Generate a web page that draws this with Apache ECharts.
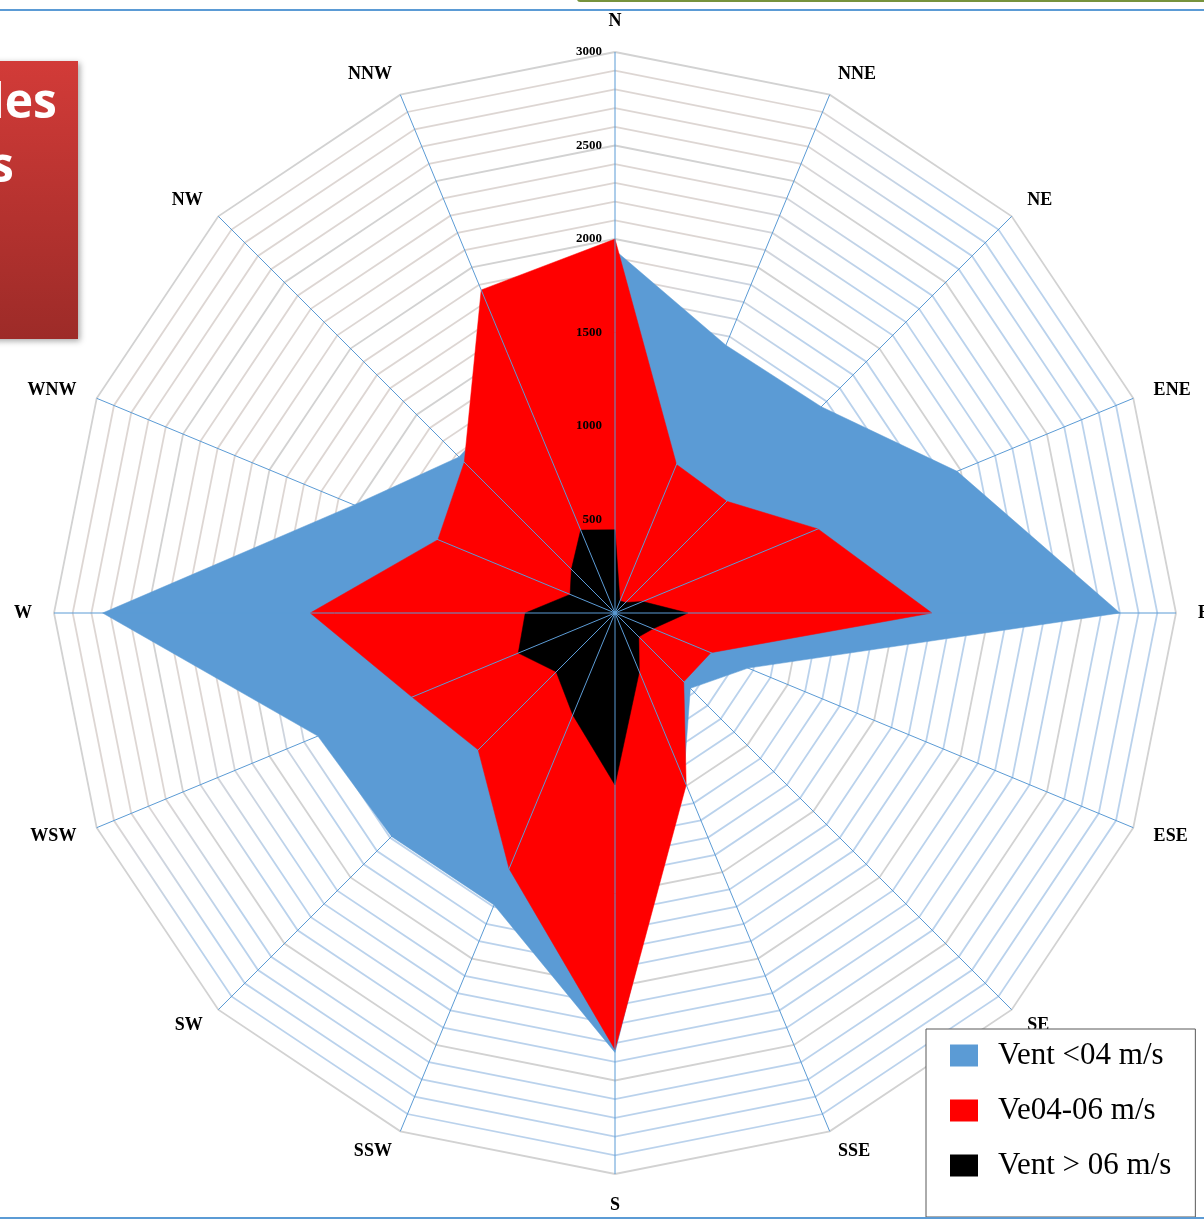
<!DOCTYPE html>
<html>
<head>
<meta charset="utf-8">
<script src="https://cdn.jsdelivr.net/npm/echarts@6/dist/echarts.min.js"></script>
<style>
  html, body { margin: 0; padding: 0; background: #ffffff; }
  #chart { width: 1204px; height: 1220px; }
</style>
</head>
<body>
<div id="chart"></div>
<script>
// Wind directions, listed clockwise from north
const directions = ['N', 'NNE', 'NE', 'ENE', 'E', 'ESE', 'SE', 'SSE', 'S', 'SSW', 'SW', 'WSW', 'W', 'WNW', 'NW', 'NNW'];

// Number of observations per direction and speed class (same order as directions)
const ventFaible = [1940, 1550, 1560, 1980, 2700, 770, 570, 960, 2350, 1690, 1690, 1720, 2740, 1510, 1180, 1300];
const ventMoyen  = [2000, 860, 845, 1175, 1695, 555, 520, 995, 2335, 1480, 1035, 1175, 1630, 1025, 1140, 1870];
const ventFort   = [445, 70, 80, 160, 390, 220, 180, 340, 920, 590, 445, 560, 480, 260, 330, 480];

const seriesNames = ['Vent <04 m/s', 'Ve04-06 m/s', 'Vent > 06 m/s'];
const seriesColors = ['#5b9bd5', '#ff0000', '#000000'];

// Radial scale
const scaleMax = 3000;
const labelStep = 500;
const minorStep = 100;

// The radar lays its indicators out counter-clockwise; reorder so the rose turns clockwise
const ccw = arr => [arr[0]].concat(arr.slice(1).reverse());

const CENTER = [615, 613];
const RADIUS = 561;

const majorRing = '#d2d2d2';
const minorRing = {
  type: 'linear', x: 0, y: 0, x2: 1, y2: 1,
  colorStops: [
    { offset: 0, color: '#ddd6d3' },
    { offset: 0.36, color: '#ddd6d3' },
    { offset: 0.46, color: '#bad2ec' },
    { offset: 1, color: '#bad2ec' }
  ]
};

const chart = echarts.init(document.getElementById('chart'), null, { renderer: 'canvas' });

const values = [ventFaible, ventMoyen, ventFort];

chart.setOption({
  animation: false,
  backgroundColor: '#ffffff',
  radar: {
    center: CENTER,
    radius: RADIUS,
    startAngle: 90,
    shape: 'polygon',
    splitNumber: scaleMax / minorStep,
    indicator: ccw(directions).map(name => ({ name: name, min: 0, max: scaleMax })),
    nameGap: 22,
    axisName: {
      color: '#000000',
      fontFamily: 'Liberation Serif',
      fontWeight: 'bold',
      fontSize: 18
    },
    axisLine: { show: false },
    axisTick: { show: false },
    axisLabel: { show: false },
    splitArea: { show: false },
    splitLine: {
      lineStyle: {
        color: [majorRing, minorRing, minorRing, minorRing, minorRing],
        width: 1.8
      }
    }
  },
  // Polar overlay: spokes drawn above the filled areas, and the value labels on the north axis
  polar: { center: CENTER, radius: RADIUS },
  angleAxis: {
    type: 'value',
    min: 0,
    max: 360,
    interval: 22.5,
    startAngle: 90,
    z: 5,
    axisLine: { show: false },
    axisTick: { show: false },
    axisLabel: { show: false },
    splitLine: { show: true, lineStyle: { color: '#5b9bd5', width: 1 } }
  },
  radiusAxis: {
    type: 'value',
    min: 0,
    max: scaleMax,
    interval: labelStep,
    z: 6,
    axisLine: { show: false },
    axisTick: { show: false },
    splitLine: { show: false },
    axisLabel: {
      formatter: v => (v === 0 ? '' : String(v)),
      fontFamily: 'Liberation Serif',
      fontWeight: 'bold',
      fontSize: 13,
      color: '#000000',
      margin: 13
    }
  },
  legend: {
    orient: 'vertical',
    left: 926,
    top: 1029,
    z: 10,
    padding: [11, 24, 36, 24],
    itemGap: 24,
    itemWidth: 28,
    itemHeight: 22,
    icon: 'rect',
    backgroundColor: '#ffffff',
    borderColor: '#595959',
    borderWidth: 1,
    borderRadius: 0,
    itemStyle: { borderWidth: 0 },
    textStyle: {
      fontFamily: 'Liberation Serif',
      fontSize: 31,
      color: '#000000',
      padding: [0, 0, 0, 15]
    },
    data: seriesNames
  },
  series: [{
    type: 'radar',
    symbol: 'none',
    z: 2,
    data: seriesNames.map((name, i) => ({
      name: name,
      value: ccw(values[i]),
      itemStyle: { color: seriesColors[i] },
      lineStyle: { color: seriesColors[i], width: 0.5 },
      areaStyle: { color: seriesColors[i], opacity: 1 }
    }))
  }],
  graphic: [
    // slide frame lines
    { type: 'line', z: 20, shape: { x1: 0, y1: 10, x2: 1204, y2: 10 }, style: { stroke: '#5b9bd5', lineWidth: 2 } },
    { type: 'line', z: 20, shape: { x1: 0, y1: 1218, x2: 1204, y2: 1218 }, style: { stroke: '#5b9bd5', lineWidth: 2 } },
    { type: 'rect', z: 20, shape: { x: 577, y: -4, width: 660, height: 6, r: 3 }, style: { fill: '#77933c' } },
    // title block on the left edge
    {
      type: 'rect', z: 20,
      shape: { x: -10, y: 61, width: 88, height: 278 },
      style: {
        fill: {
          type: 'linear', x: 0, y: 0, x2: 0, y2: 1,
          colorStops: [{ offset: 0, color: '#d23b38' }, { offset: 1, color: '#9d2b28' }]
        },
        shadowBlur: 6,
        shadowOffsetX: 2,
        shadowOffsetY: 2,
        shadowColor: 'rgba(0,0,0,0.35)'
      }
    },
    { type: 'text', z: 21, x: -10, y: 80, style: { text: 'les', fill: '#ffffff', font: 'bold 48px "Open Sans"', verticalAlign: 'top' } },
    { type: 'text', z: 21, x: -10, y: 144, style: { text: 's', fill: '#ffffff', font: 'bold 48px "Open Sans"', verticalAlign: 'top' } }
  ]
});
</script>
</body>
</html>
